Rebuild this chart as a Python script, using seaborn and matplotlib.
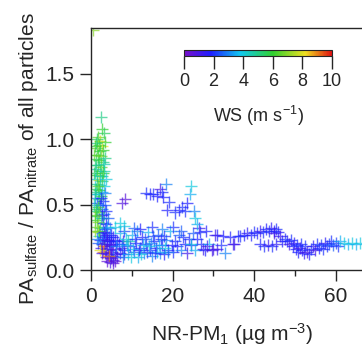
import matplotlib
matplotlib.use("Agg")
import matplotlib.pyplot as plt
from matplotlib.colors import LinearSegmentedColormap, Normalize
from matplotlib.cm import ScalarMappable
import numpy as np
import pandas as pd
import seaborn as sns

# low-mass spike (NR-PM1 < ~8)
spike_x = [0.4, 2.5, 2.8, 3.2, 1.8, 2.3, 2.0, 2.7, 1.5, 2.2, 3.0, 1.7, 2.5, 1.3, 2.0, 2.9,
           1.6, 2.4, 1.2, 2.1, 3.1, 1.5, 2.6, 1.1, 1.9, 2.8, 1.4, 2.3, 3.3, 1.2, 2.0, 2.7,
           1.6, 2.4, 1.1, 1.9, 3.0, 1.4, 2.2, 3.5, 1.7, 2.6, 1.2, 2.0, 3.2, 1.5, 2.4, 1.1,
           1.8, 2.9, 3.8, 1.4, 2.2, 3.4, 1.6, 2.6, 4.0, 1.9, 3.0, 4.3, 2.2, 3.5, 1.7, 2.8,
           4.0, 3.2, 2.5, 3.8, 4.5, 3.0, 4.2, 5.0, 3.6, 5.5, 4.8, 3.4, 4.6, 5.2, 6.0, 5.8,
           1.3, 2.1, 1.0, 2.9, 3.6, 4.4, 3.9, 4.9, 5.4, 3.3,
           0.9, 1.4, 3.4, 0.8, 3.5, 0.9, 3.3, 2.9, 0.8, 3.6, 1.7, 0.9, 3.4, 2.5, 0.8, 1.3,
           3.8, 2.8, 0.9, 4.2, 1.9, 0.9, 3.2, 4.6, 2.3, 1.5, 5.0, 4.8, 5.5, 6.2, 5.8, 6.5,
           7.0, 7.5, 4.0, 4.4, 3.9, 2.6, 6.8, 7.8, 8.2, 5.3, 4.7]
spike_y = [1.84, 1.17, 1.08, 1.05, 1.02, 0.99, 0.96, 0.95, 0.93, 0.91, 0.92, 0.88, 0.87, 0.85, 0.84, 0.83,
           0.80, 0.79, 0.77, 0.76, 0.76, 0.73, 0.72, 0.70, 0.69, 0.68, 0.66, 0.65, 0.64, 0.62, 0.61, 0.60,
           0.58, 0.57, 0.55, 0.54, 0.53, 0.51, 0.50, 0.50, 0.48, 0.47, 0.45, 0.44, 0.43, 0.41, 0.40, 0.38,
           0.37, 0.36, 0.35, 0.33, 0.32, 0.31, 0.29, 0.28, 0.28, 0.26, 0.25, 0.25, 0.23, 0.22, 0.21, 0.20,
           0.20, 0.18, 0.17, 0.16, 0.15, 0.14, 0.12, 0.11, 0.10, 0.08, 0.09, 0.13, 0.18, 0.14, 0.12, 0.07,
           0.97, 0.72, 0.58, 0.40, 0.27, 0.22, 0.33, 0.19, 0.11, 0.24,
           0.95, 1.00, 0.98, 0.88, 0.86, 0.80, 0.81, 0.74, 0.74, 0.70, 0.64, 0.60, 0.59, 0.55, 0.50, 0.47,
           0.45, 0.42, 0.42, 0.40, 0.30, 0.30, 0.29, 0.32, 0.15, 0.24, 0.27, 0.22, 0.20, 0.16, 0.23, 0.10,
           0.13, 0.17, 0.07, 0.11, 0.23, 0.13, 0.20, 0.22, 0.12, 0.05, 0.06]
spike_ws = [7.0, 5.0, 6.0, 5.5, 6.5, 7.8, 6.0, 8.2, 6.5, 5.5, 6.0, 6.0, 7.0, 5.5, 6.0, 5.0,
            5.5, 6.5, 4.5, 5.5, 4.5, 6.0, 5.0, 4.0, 7.5, 5.5, 5.0, 4.5, 4.0, 5.5, 6.0, 3.5,
            4.5, 6.0, 3.0, 5.5, 2.0, 2.5, 1.8, 2.5, 6.0, 3.0, 5.0, 6.5, 2.5, 5.5, 4.0, 6.0,
            7.0, 2.0, 1.8, 6.5, 5.0, 2.5, 7.5, 3.0, 1.5, 4.0, 2.0, 2.5, 1.5, 3.0, 2.5, 1.5,
            2.0, 9.5, 1.0, 0.8, 2.0, 9.0, 1.0, 1.5, 0.5, 1.0, 0.8, 1.5, 1.2, 0.8, 1.5, 0.5,
            5.0, 4.5, 4.0, 5.0, 1.2, 2.0, 3.5, 1.0, 2.5, 1.8,
            6.0, 5.5, 6.0, 6.5, 5.0, 5.0, 4.5, 6.0, 5.5, 4.0, 6.5, 5.0, 3.0, 2.0, 4.5, 5.5,
            2.0, 1.5, 6.5, 2.5, 6.0, 7.0, 1.5, 3.0, 8.0, 3.0, 2.0, 1.5, 1.0, 0.8, 1.5, 1.0,
            1.5, 1.0, 0.5, 9.0, 1.2, 1.0, 1.8, 1.2, 1.5, 0.6, 1.0]

# dense low band (NR-PM1 ~ 5-36)
band_x = [6.0, 7.0, 7.5, 8.0, 8.5, 9.0, 9.5, 10.0, 10.5, 11.0, 11.5, 12.0, 12.5, 13.0, 13.5, 14.0,
          14.5, 15.0, 15.5, 16.0, 16.5, 17.0, 17.5, 18.0, 18.5, 19.0, 19.5, 20.0, 6.5, 7.2, 8.2, 9.2,
          10.2, 11.2, 12.2, 13.2, 14.2, 15.2, 16.2, 17.2, 18.2, 5.5, 6.2, 7.8, 8.8, 9.8, 10.8, 11.8,
          12.8, 13.8, 14.8, 15.8, 16.8, 17.8, 18.8, 19.8, 20.5, 21.0, 21.5, 22.0, 22.5, 23.0, 23.5, 24.0,
          24.5, 25.0, 25.5, 26.0, 26.5, 27.0, 27.5, 28.0, 29.0, 30.0, 31.0, 32.0, 33.0, 34.0, 35.0, 36.0,
          8.0, 10.5, 12.0, 15.0, 17.5, 20.0, 22.0, 24.6, 28.4, 29.6, 30.9, 32.4, 34.9, 26.7, 28.3, 30.4]
band_y = [0.33, 0.28, 0.20, 0.15, 0.24, 0.12, 0.18, 0.27, 0.14, 0.21, 0.10, 0.17, 0.25, 0.13, 0.20, 0.29,
          0.15, 0.11, 0.22, 0.17, 0.27, 0.13, 0.19, 0.12, 0.23, 0.15, 0.30, 0.14, 0.22, 0.36, 0.30, 0.22,
          0.16, 0.30, 0.12, 0.24, 0.18, 0.26, 0.14, 0.24, 0.17, 0.25, 0.18, 0.10, 0.19, 0.10, 0.24, 0.15,
          0.19, 0.14, 0.21, 0.13, 0.19, 0.26, 0.14, 0.19, 0.22, 0.18, 0.27, 0.15, 0.25, 0.20, 0.13, 0.24,
          0.19, 0.28, 0.15, 0.24, 0.32, 0.20, 0.16, 0.15, 0.20, 0.16, 0.27, 0.19, 0.13, 0.25, 0.20, 0.26,
          0.34, 0.32, 0.31, 0.33, 0.31, 0.33, 0.30, 0.20, 0.18, 0.15, 0.16, 0.26, 0.20, 0.29, 0.30, 0.27]
band_ws = [4.0, 3.5, 3.0, 2.0, 4.0, 3.5, 2.0, 3.5, 2.5, 2.0, 3.5, 2.0, 1.8, 3.0, 2.0, 3.5,
           2.0, 3.0, 2.0, 1.8, 2.5, 3.0, 2.0, 1.8, 3.0, 2.0, 3.5, 2.0, 2.0, 4.0, 2.2, 4.5,
           3.5, 3.0, 4.0, 2.5, 4.0, 2.2, 3.5, 2.0, 4.0, 1.8, 3.0, 3.0, 3.5, 4.0, 2.0, 1.8,
           3.5, 2.2, 3.0, 2.0, 3.5, 2.0, 3.0, 1.8, 2.0, 1.8, 2.5, 3.0, 2.0, 1.8, 1.2, 2.0,
           1.8, 2.5, 3.5, 1.8, 1.2, 2.0, 1.2, 1.8, 3.5, 1.2, 1.8, 2.0, 3.0, 1.8, 1.2, 1.8,
           4.0, 2.5, 1.8, 2.0, 3.0, 2.0, 2.5, 4.0, 1.2, 1.0, 1.2, 1.8, 1.2, 2.0, 1.8, 1.2]

# elevated arc around 13-26
arc_x = [7.5, 8.3, 13.5, 14.5, 15.3, 16.2, 16.9, 17.5, 18.4, 17.7, 18.6, 19.2, 20.6, 21.5, 22.3,
         23.5, 23.1, 24.3, 24.5, 25.2, 25.5, 26.0]
arc_y = [0.51, 0.54, 0.59, 0.58, 0.58, 0.57, 0.62, 0.60, 0.66, 0.56, 0.46, 0.52, 0.44, 0.46, 0.48,
         0.51, 0.45, 0.58, 0.64, 0.45, 0.40, 0.35]
arc_ws = [0.8, 0.6, 2.0, 1.8, 2.0, 1.8, 1.0, 2.0, 3.0, 1.8, 1.8, 2.0, 2.0, 1.8, 2.0,
          1.8, 2.0, 3.5, 4.0, 3.0, 4.0, 3.5]

# high-mass tail (NR-PM1 > 36)
tail_x = [36.6, 37.5, 38.3, 39.2, 40.0, 40.8, 41.5, 42.2, 43.0, 43.6, 44.2, 44.8, 45.4, 45.0, 46.0, 46.5,
          41.5, 42.5, 43.5, 44.5, 45.5, 46.8, 47.5, 48.0, 48.5, 49.0, 49.5, 49.8, 50.2, 50.5, 50.8, 51.2,
          51.5, 51.8, 52.2, 52.5, 53.0, 53.5, 54.0, 54.5, 55.0, 55.5, 56.0, 56.5, 57.0, 57.5, 58.0, 58.5,
          59.0, 59.5, 60.0, 60.5, 61.2, 62.0, 63.0, 64.0, 65.0, 66.0]
tail_y = [0.26, 0.27, 0.28, 0.27, 0.29, 0.28, 0.30, 0.29, 0.31, 0.30, 0.32, 0.30, 0.31, 0.28, 0.29, 0.26,
          0.20, 0.18, 0.19, 0.18, 0.20, 0.22, 0.24, 0.22, 0.20, 0.23, 0.18, 0.21, 0.16, 0.19, 0.14, 0.17,
          0.20, 0.15, 0.13, 0.18, 0.14, 0.12, 0.16, 0.18, 0.15, 0.20, 0.17, 0.19, 0.16, 0.21, 0.18, 0.20,
          0.22, 0.19, 0.21, 0.18, 0.22, 0.21, 0.20, 0.21, 0.20, 0.21]
tail_ws = [2.0, 1.8, 1.5, 1.8, 2.0, 1.8, 1.2, 2.0, 1.8, 2.0, 1.5, 1.8, 2.0, 1.0, 1.8, 1.2,
           1.8, 2.0, 1.2, 2.0, 1.5, 1.8, 2.0, 1.8, 1.0, 2.0, 1.8, 1.5, 1.8, 2.0, 1.8, 1.0,
           2.0, 1.8, 1.5, 2.0, 1.0, 1.8, 2.0, 1.5, 1.0, 2.0, 1.8, 2.2, 2.0, 1.5, 2.0, 2.2,
           2.0, 2.5, 2.2, 2.0, 3.5, 4.0, 3.5, 4.0, 3.5, 4.0]

ws_ticks = [0, 2, 4, 6, 8, 10]

df = pd.DataFrame({
    'pm1': spike_x + band_x + arc_x + tail_x,
    'ratio': spike_y + band_y + arc_y + tail_y,
    'ws': spike_ws + band_ws + arc_ws + tail_ws,
})

sns.set_style("ticks")
plt.rcParams['font.family'] = ['Liberation Sans', 'DejaVu Sans']
plt.rcParams['mathtext.default'] = 'regular'

cmap = LinearSegmentedColormap.from_list(
    'ws_rainbow', [(0.0, '#7a10c8'), (0.18, '#1e1eff'), (0.38, '#10c8f0'),
                   (0.6, '#30d030'), (0.82, '#f0e020'), (1.0, '#e01010')])
norm = Normalize(0, 10)

fig = plt.figure(figsize=(3.62, 3.49), dpi=100)
ax = fig.add_axes([91 / 362, 79 / 349, 282 / 362, 242 / 349])

sns.scatterplot(data=df, x='pm1', y='ratio', hue='ws', palette=cmap, hue_norm=norm,
                marker='+', s=75, linewidth=1, alpha=0.7, legend=False, ax=ax)

ax.set_xlim(0, 282 / 4.075)
ax.set_ylim(0, 242 / 130.7)
ax.set_xticks([0, 20, 40, 60])
ax.set_xticks([10, 30, 50], minor=True)
ax.set_yticks([0.0, 0.5, 1.0, 1.5])
ax.set_yticklabels(['0.0', '0.5', '1.0', '1.5'])
ax.tick_params(which='major', direction='out', length=8, width=1, labelsize=15, pad=4)
ax.tick_params(which='minor', direction='out', length=4, width=1)
for side in ['left', 'bottom', 'top']:
    ax.spines[side].set_linewidth(1)
ax.spines['right'].set_visible(False)

ax.set_xlabel('NR-PM$_1$ (µg m$^{-3}$)', fontsize=15, labelpad=11)
ax.set_ylabel('PA$_{sulfate}$ / PA$_{nitrate}$ of all particles', fontsize=15)
ax.yaxis.set_label_coords(-0.18, 0.46)

# colour scale for wind speed
cax = fig.add_axes([184 / 362, (349 - 56) / 349, 148 / 362, 6 / 349])
sm = ScalarMappable(norm=norm, cmap=cmap)
cb = fig.colorbar(sm, cax=cax, orientation='horizontal')
cb.set_ticks(ws_ticks)
cb.outline.set_linewidth(0.8)
cax.tick_params(direction='out', length=9, width=1, labelsize=13, pad=3)
cb.set_label('WS (m s$^{-1}$)', fontsize=13, labelpad=10)

fig.savefig('out.png', dpi=100)
